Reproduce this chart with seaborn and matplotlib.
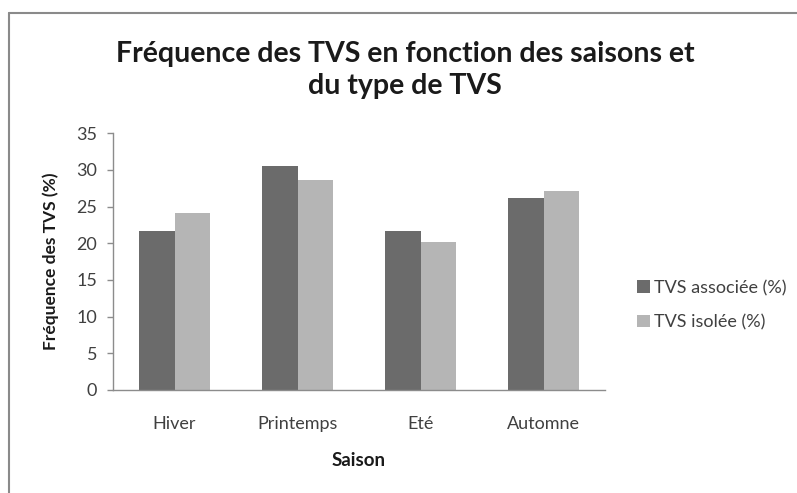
import matplotlib
matplotlib.use("Agg")
import matplotlib.pyplot as plt
from matplotlib.lines import Line2D
from matplotlib.patches import Patch
import pandas as pd
import seaborn as sns

# Season categories and the two TVS series (%)
saisons = ["Hiver", "Printemps", "Eté", "Automne"]
tvs_associee = [21.7, 30.5, 21.7, 26.2]
tvs_isolee = [24.1, 28.7, 20.2, 27.2]
series = ["TVS associée (%)", "TVS isolée (%)"]
y_ticks = [0, 5, 10, 15, 20, 25, 30, 35]

df = pd.DataFrame({
    "Saison": saisons * 2,
    "Valeur": tvs_associee + tvs_isolee,
    "Type": [series[0]] * len(saisons) + [series[1]] * len(saisons),
})

sns.set_theme(style="white")
plt.rcParams["font.family"] = ["Lato", "DejaVu Sans"]

colors = ["#6b6b6b", "#b5b5b5"]
axis_gray = "#8c8c8c"
text_gray = "#404040"

W, H = 797, 493
fig = plt.figure(figsize=(W / 100, H / 100), dpi=100)
fig.patch.set_facecolor("white")
ax = fig.add_axes([113 / W, 1 - 390 / H, 492 / W, (390 - 133.3) / H])

sns.barplot(data=df, x="Saison", y="Valeur", hue="Type", palette=colors,
            width=0.57, saturation=1, gap=0, ax=ax, legend=False,
            edgecolor="none", linewidth=0)

ax.set_ylim(0, 35)
ax.set_yticks(y_ticks)
ax.set_xlim(-0.5, len(saisons) - 0.5)
for side in ["top", "right"]:
    ax.spines[side].set_visible(False)
for side in ["left", "bottom"]:
    ax.spines[side].set_color(axis_gray)
    ax.spines[side].set_linewidth(1.0)
ax.tick_params(axis="y", which="both", direction="out", length=4.5, width=1,
               color=axis_gray, labelsize=13, labelcolor=text_gray, pad=7, left=True)
ax.tick_params(axis="x", length=0, labelsize=13, labelcolor=text_gray, pad=19)

ax.set_xlabel("Saison", fontsize=13.5, fontweight="bold", color="#1a1a1a", labelpad=14)
ax.set_ylabel("Fréquence des TVS (%)", fontsize=12.5, fontweight="bold", color="#1a1a1a", labelpad=12)

fig.text(405 / W, 1 - 70 / H, "Fréquence des TVS en fonction des saisons et\ndu type de TVS",
         ha="center", va="center", fontsize=20.5, fontweight="bold", color="#1a1a1a",
         linespacing=1.25)

handles = [Patch(facecolor=c, edgecolor="none") for c in colors]
fig.legend(handles, series, loc="center left", bbox_to_anchor=(637 / W, 1 - 305 / H),
           frameon=False, fontsize=13, handlelength=0.7, handleheight=0.7,
           handletextpad=0.25, labelspacing=1.0, labelcolor=text_gray,
           borderpad=0, borderaxespad=0)

# Outer chart frame
fig.add_artist(Line2D([9 / W, 1], [1 - 13 / H, 1 - 13 / H], transform=fig.transFigure,
                      color="#8a8a8a", lw=1.5))
fig.add_artist(Line2D([9 / W, 9 / W], [0, 1 - 13 / H], transform=fig.transFigure,
                      color="#8a8a8a", lw=1.5))

fig.savefig("out.png", dpi=100, facecolor="white")
